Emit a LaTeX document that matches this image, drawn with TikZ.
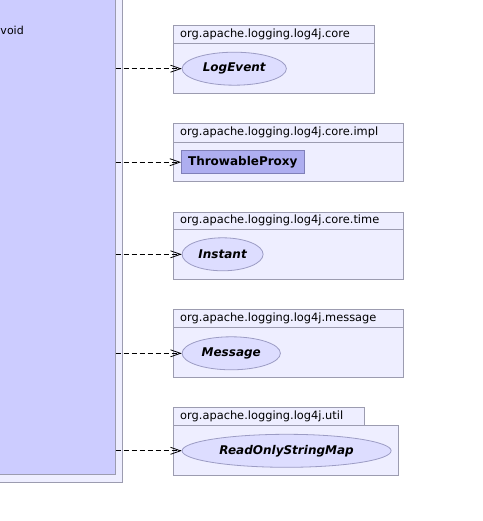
\documentclass[tikz,border=0pt]{standalone}
\usepackage{fontspec}
\setmainfont{DejaVu Sans}
\usetikzlibrary{arrows.meta,shapes.geometric}
\definecolor{pkgfill}{HTML}{EEEEFF}
\definecolor{pkgdraw}{HTML}{9C9CB0}
\definecolor{elfill}{HTML}{DDDDFF}
\definecolor{eldraw}{HTML}{9C9CC4}
\definecolor{clsfill}{HTML}{AEAEF0}
\definecolor{clsdraw}{HTML}{8080B8}
\definecolor{mainfill}{HTML}{CCCCFF}
\tikzset{
  pkg/.style={draw=pkgdraw, fill=pkgfill, line width=0.9pt, anchor=north west, inner sep=0pt},
  pkgline/.style={draw=pkgdraw, line width=0.9pt},
  hdr/.style={anchor=west, inner sep=0pt, font=\fontsize{11.4}{13}\selectfont},
  iface/.style={ellipse, draw=eldraw, fill=elfill, line width=0.8pt, inner sep=0pt, anchor=west,
     minimum height=33pt, font=\fontsize{12}{14}\selectfont\bfseries\itshape},
  cls/.style={rectangle, draw=clsdraw, fill=clsfill, line width=0.9pt, inner sep=0pt, anchor=west,
     minimum height=23pt, font=\fontsize{12}{14}\selectfont\bfseries},
  dep/.style={draw=black, line width=0.8pt, dash pattern=on 5pt off 3pt,
     -{Straight Barb[length=10pt,width=7pt,line width=0.8pt]}},
}
\begin{document}
\begin{tikzpicture}[x=1pt,y=-1pt]
\useasboundingbox (0,0) rectangle (482,521);
% main class area (clipped at the left/top)
\node[draw=pkgdraw, fill=pkgfill, line width=0.9pt, inner sep=0pt, anchor=south east,
  minimum width=140pt, minimum height=500pt] (outer) at (123.3,482.7) {};
\node[draw=pkgdraw, fill=mainfill, line width=0.9pt, inner sep=0pt, anchor=south east,
  minimum width=130pt, minimum height=490pt] (main) at (115.7,475) {};
\node[anchor=west, inner sep=0pt, font=\fontsize{11}{13}\selectfont] (void) at (0.3,30) {void};

% package core
\node[pkg, minimum width=200.7pt, minimum height=68.3pt] (pcore) at (173,25) {};
\draw[pkgline] (173,43.3) -- (373.7,43.3);
\node[hdr] (tcore) at (180,34.2) {org.apache.logging.log4j.core};
\node[iface, minimum width=104.3pt] (logevent) at (181.7,68.7) {LogEvent};

% package core.impl
\node[pkg, minimum width=230.3pt, minimum height=58pt] (pimpl) at (173,123.3) {};
\draw[pkgline] (173,142.3) -- (403.3,142.3);
\node[hdr] (timpl) at (180,132.8) {org.apache.logging.log4j.core.impl};
\node[cls, minimum width=122.7pt] (tp) at (181,162.2) {ThrowableProxy};

% package core.time
\node[pkg, minimum width=230.3pt, minimum height=67.3pt] (ptime) at (173,211.7) {};
\draw[pkgline] (173,229.7) -- (403.3,229.7);
\node[hdr] (ttime) at (180,220.7) {org.apache.logging.log4j.core.time};
\node[iface, minimum width=81pt] (instant) at (181.7,254.3) {Instant};

% package message
\node[pkg, minimum width=230.3pt, minimum height=68pt] (pmsg) at (173,309) {};
\draw[pkgline] (173,327.3) -- (403.3,327.3);
\node[hdr] (tmsg) at (180,318.2) {org.apache.logging.log4j.message};
\node[iface, minimum width=98.3pt] (message) at (181.7,353.3) {Message};

% package util (tab + body)
\node[pkg, minimum width=191.3pt, minimum height=17.7pt] (utab) at (173,407.3) {};
\node[pkg, minimum width=225.3pt, minimum height=50pt] (putil) at (173,425) {};
\node[hdr] (tutil) at (180,416.2) {org.apache.logging.log4j.util};
\node[iface, minimum width=209pt] (rosm) at (181.7,450.8) {ReadOnlyStringMap};

% dependencies
\draw[dep] (main.east |- logevent.west) -- (logevent.west);
\draw[dep] (main.east |- tp.west) -- (tp.west);
\draw[dep] (main.east |- instant.west) -- (instant.west);
\draw[dep] (main.east |- message.west) -- (message.west);
\draw[dep] (main.east |- rosm.west) -- (rosm.west);
\end{tikzpicture}
\end{document}
